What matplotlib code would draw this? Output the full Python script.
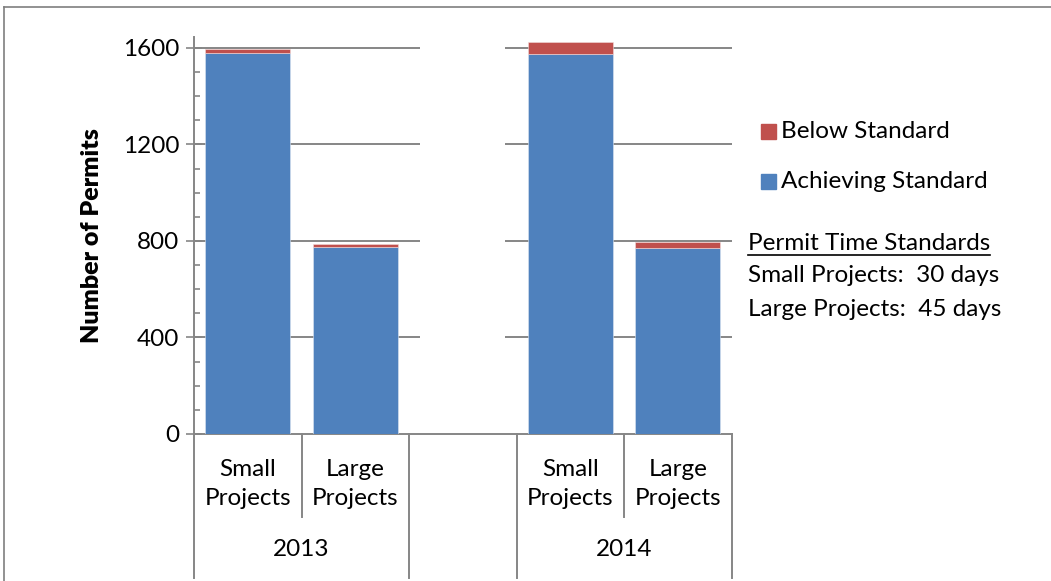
import matplotlib.pyplot as plt
import matplotlib.transforms as mtransforms
from matplotlib.patches import Rectangle
from matplotlib.ticker import MultipleLocator

plt.rcParams['font.family'] = ['Lato', 'DejaVu Sans']

# data
years = ['2013', '2014']
projects = ['Small\nProjects', 'Large\nProjects']
achieving = [1578, 774, 1575, 772]
below = [16, 14, 49, 23]
yticks = [0, 400, 800, 1200, 1600]

blue = '#4F81BD'
red = '#C0504D'
grid_c = '#868686'
fs = 17.5

fig = plt.figure(figsize=(10.51, 5.81), dpi=100)
ax = fig.add_axes([194 / 1051, 1 - 434 / 581, (731.5 - 194) / 1051, (434 - 37) / 581])

# slot positions: two bars per year, one empty slot between years
pos = [g * 3 + j for g in range(len(years)) for j in range(len(projects))]
bw = 0.79

ax.bar(pos, achieving, width=bw, color=blue, edgecolor='#dce6f2', linewidth=0.4, zorder=3,
       label='Achieving Standard')
ax.bar(pos, below, bottom=achieving, width=bw, color=red, edgecolor='#f2dcdb', linewidth=0.4,
       zorder=3, label='Below Standard')

ax.set_xlim(-0.5, 4.5)
ax.set_ylim(0, 1645)

# gridlines, broken in the empty slot
for v in yticks[1:]:
    ax.hlines(v, -0.5, 2 - bw / 2, color=grid_c, lw=1.4, zorder=1)
    ax.hlines(v, 2 + bw / 2, 4.5, color=grid_c, lw=1.4, zorder=1)

for s in ['top', 'right']:
    ax.spines[s].set_visible(False)
for s in ['left', 'bottom']:
    ax.spines[s].set_color(grid_c)
    ax.spines[s].set_linewidth(1.4)

ax.set_yticks(yticks)
ax.yaxis.set_minor_locator(MultipleLocator(100))
ax.tick_params(axis='y', which='major', direction='inout', length=11, width=1.2,
               color=grid_c, labelsize=fs, pad=5)
ax.tick_params(axis='y', which='minor', direction='in', length=4.5, width=1.2, color=grid_c)
ax.set_xticks([])

ax.set_ylabel('Number of Permits', fontsize=18, fontweight='heavy', labelpad=14)

# multi-level category axis
tr = mtransforms.blended_transform_factory(ax.transData, ax.transAxes)
ax_h = 434 - 37
short = -(517 - 434) / ax_h
full = -(578 - 434) / ax_h
for g in range(len(years)):
    left = g * 3 - 0.5
    ax.plot([left, left], [0, full], transform=tr, color=grid_c, lw=1.4, clip_on=False)
    ax.plot([left + 2, left + 2], [0, full], transform=tr, color=grid_c, lw=1.4, clip_on=False)
    ax.plot([left + 1, left + 1], [0, short], transform=tr, color=grid_c, lw=1.4, clip_on=False)
    for j, p in enumerate(projects):
        ax.text(g * 3 + j, -(484 - 434) / ax_h, p, transform=tr, ha='center', va='center',
                fontsize=fs, linespacing=1.5)
    ax.text(g * 3 + 0.5, -(550 - 434) / ax_h, years[g], transform=tr, ha='center',
            va='center', fontsize=fs)

# legend and standards note
fig.patches.append(Rectangle((761 / 1051, 1 - 139 / 581), 15 / 1051, 15 / 581,
                             transform=fig.transFigure, color=red))
fig.text(781 / 1051, 1 - 131 / 581, 'Below Standard', fontsize=fs, va='center')
fig.patches.append(Rectangle((761 / 1051, 1 - 189 / 581), 15 / 1051, 15 / 581,
                             transform=fig.transFigure, color=blue))
fig.text(781 / 1051, 1 - 181 / 581, 'Achieving Standard', fontsize=fs, va='center')

t = fig.text(748 / 1051, 1 - 243 / 581, 'Permit Time Standards', fontsize=fs, va='center')
fig.canvas.draw()
bb = t.get_window_extent().transformed(fig.transFigure.inverted())
fig.add_artist(plt.Line2D([bb.x0, bb.x1], [1 - 255 / 581] * 2, color='black', lw=1.2,
                          transform=fig.transFigure))
fig.text(748 / 1051, 1 - 276 / 581, 'Small Projects:  30 days', fontsize=fs, va='center')
fig.text(748 / 1051, 1 - 309 / 581, 'Large Projects:  45 days', fontsize=fs, va='center')

# chart area border (top and left visible)
fig.add_artist(plt.Line2D([4 / 1051, 4 / 1051], [0, 1 - 7 / 581], color='#7f7f7f', lw=1.2,
                          transform=fig.transFigure))
fig.add_artist(plt.Line2D([4 / 1051, 1], [1 - 7 / 581] * 2, color='#7f7f7f', lw=1.2,
                          transform=fig.transFigure))

fig.savefig('out.png', dpi=100)
